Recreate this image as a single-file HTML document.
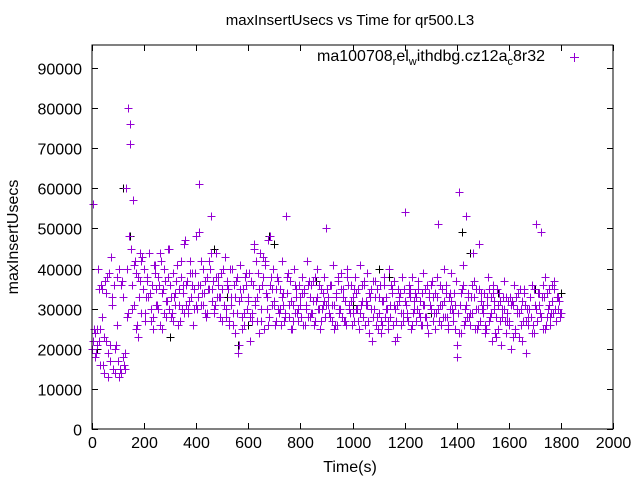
<!DOCTYPE html>
<html><head><meta charset="utf-8">
<style>
html,body{margin:0;padding:0;background:#fff;}
svg{display:block;font-family:"Liberation Sans",sans-serif;}
</style></head>
<body>
<svg id="chart" width="640" height="480" viewBox="0 0 640 480" xmlns="http://www.w3.org/2000/svg">
<rect x="0" y="0" width="640" height="480" fill="#fff"/>
<text x="350" y="25" font-size="15" text-anchor="middle">maxInsertUsecs vs Time for qr500.L3</text>
<text x="350" y="472" font-size="16" text-anchor="middle">Time(s)</text>
<text transform="translate(18,237) rotate(-90)" font-size="16" text-anchor="middle">maxInsertUsecs</text>
<g id="ticks"></g>
<g id="marks" shape-rendering="crispEdges"></g>
<rect x="92" y="45" width="521" height="384" fill="none" stroke="#000" stroke-width="1"/>
<text x="545" y="61" font-size="16" text-anchor="end">ma100708<tspan font-size="11" dy="4">r</tspan><tspan dy="-4">el</tspan><tspan font-size="11" dy="4">w</tspan><tspan dy="-4">ithdbg.cz12a</tspan><tspan font-size="11" dy="4">c</tspan><tspan dy="-4">8r32</tspan></text>
<g stroke="#9400d3" stroke-width="1"><line x1="570" y1="57.5" x2="579" y2="57.5"/><line x1="574.5" y1="53" x2="574.5" y2="62"/></g>
</svg>
<script>
const xTicks=[0,200,400,600,800,1000,1200,1400,1600,1800,2000];
const yTicks=[0,10000,20000,30000,40000,50000,60000,70000,80000,90000];
const stepA=5;
const valsA=[20,56,24,19,25,22,16,36,35,14,
37,22,13,39,21,33,15,36,14,38,
17,40,14,37,18,15,60,28,80,71,
45,36,31,42,25,38,33,44,29,35,
40,27,37,33,44,30,36,28,41,35,
31,38,26,42,34,29,37,32,45,30,
36,28,39,33,31,41,26,35,38,30,
34,46,31,37,29,42,33,36,30,39,
48,33,61,36,31,40,34,29,38,35,
42,53,32,37,30,44,33,36,28,39,
35,31,43,30,37,27,40,33,29,36,
24,38,19,32,41,28,35,26,39,30,
33,22,37,29,46,31,42,27,35,44,
30,38,25,41,33,47,28,36,31,40,
32,27,38,30,35,26,42,31,29,53,
34,28,37,25,31,40,29,33,27,36,
31,38,26,35,30,42,28,33,36,29,
37,27,32,40,30,25,35,31,38,28,
50,33,29,36,27,41,31,34,26,37,
30,39,28,35,32,26,40,31,29,36,
33,27,38,30,35,25,41,32,28,36,
31,39,27,34,30,22,37,33,26,35,
29,36,24,32,38,28,33,27,40,31,
34,26,37,30,23,35,32,29,38,27,
54,31,28,36,33,25,38,30,34,27,
35,29,32,26,39,31,28,36,24,33,
30,37,27,34,29,38,51,31,26,35,
32,28,36,25,33,30,39,27,34,31,
18,29,59,24,35,41,30,53,28,34,
26,33,29,37,25,35,30,46,27,32,
29,34,24,31,38,27,33,22,36,30,
28,35,25,32,21,30,37,27,33,29,
26,33,20,31,36,25,29,34,23,30,
32,27,35,19,30,26,33,28,36,24,
31,51,27,34,29,49,25,33,38,28,
30,35,26,32,29,37,27,33,30,28,29];
const stepB=10, offsetB=2.5;
const valsB=[22,18,40,25,16,34,19,43,15,21,
13,36,16,40,48,30,41,26,37,43,
29,38,34,25,39,30,44,35,28,38,
33,27,37,31,42,29,36,32,39,35,
30,49,34,37,29,40,35,31,38,33,
40,28,35,31,26,37,21,33,29,36,
39,27,45,33,24,36,42,30,48,35,
26,37,30,34,28,39,32,27,35,30,
28,34,31,37,29,26,33,36,30,32,
35,28,31,26,38,30,33,27,36,32,
29,34,27,31,37,32,24,35,30,28,
33,26,36,30,28,35,22,31,34,29,
32,27,35,29,33,37,26,31,28,34,
36,29,33,27,31,40,28,34,30,25,
21,31,36,27,33,29,44,30,26,34,
31,25,35,29,32,23,34,28,30,27,
27,32,24,30,35,22,31,28,33,26,
30,34,28,36,26,31,29,35,27,32];
const stepC=10, offsetC=7.5;
const valsC=[25,21,35,28,23,38,17,31,20,26,
15,33,19,29,76,57,39,23,42,35,
33,44,27,41,31,36,25,40,32,45,
29,34,41,27,36,47,30,39,26,31,
36,42,31,28,35,44,29,38,33,27,
31,36,26,40,33,29,35,25,38,32,
28,36,32,39,27,43,34,26,38,31,
35,29,33,27,38,31,25,36,29,33,
34,26,36,28,32,38,30,27,34,31,
31,36,25,33,29,35,27,38,30,26,
35,30,29,36,26,31,33,28,37,25,
27,32,30,25,36,31,27,33,26,35,
29,34,26,32,30,28,34,35,26,31,
33,25,30,36,28,34,26,32,29,37,
24,34,26,31,28,36,33,25,35,30,
26,33,28,34,24,31,27,33,24,32,
31,23,33,29,26,34,27,30,24,35,
27,31,33,25,34,28,36,30,33,29];
const blackTimes=[20,120,145,300,410,470,520,560,600,680,700,860,1000,1100,1140,1210,1300,1420,1450,1560,1700,1800];
const blackVals=[20,60,48,23,61,45,33,21,26,48,46,37,31,40,38,28,29,49,44,34,35,34];

const NS='http://www.w3.org/2000/svg';
const X0=92,X1=613,Y0=429,Y1=68;
function xs(t){return X0+(t/2000)*(X1-X0);}
function ys(v){return Y0-(v/90000)*(Y0-Y1);}
const tg=document.getElementById('ticks');
const mg=document.getElementById('marks');
function mk(tag,attrs,parent){const e=document.createElementNS(NS,tag);for(const k in attrs)e.setAttribute(k,attrs[k]);parent.appendChild(e);return e;}
xTicks.forEach(t=>{
  const x=Math.round(xs(t))+0.5;
  const l=mk('line',{x1:x,y1:429,x2:x,y2:423,stroke:'#000'},tg);
  
  
  mk('line',{x1:x,y1:45,x2:x,y2:51,stroke:'#000'},tg);
  const tx=mk('text',{x:x,y:448,'font-size':16,'text-anchor':'middle'},tg);
  tx.textContent=t;
  
  
});
yTicks.forEach(v=>{
  const y=Math.round(ys(v))+0.5;
  const l=mk('line',{x1:92,y1:y,x2:98,y2:y,stroke:'#000'},tg);
  
  
  mk('line',{x1:613,y1:y,x2:607,y2:y,stroke:'#000'},tg);
  const tx=mk('text',{x:82,y:y+6,'font-size':16,'text-anchor':'end'},tg);
  tx.textContent=v;
  
  
});
function plus(t,v,color,name){
  const x=Math.round(xs(t))+0.5,y=Math.round(ys(v))+0.5;
  const p=mk('path',{d:`M${x-4} ${y}H${x+4}M${x} ${y-4}V${y+4}`,stroke:color,'stroke-width':1,fill:'none'},mg);
  
  
}
blackTimes.forEach((t,i)=>plus(t,blackVals[i]*1000,'#000','black-point'));
valsA.forEach((v,i)=>plus(i*stepA,v*1000,'#9400d3','data-point'));
valsB.forEach((v,i)=>plus(i*stepB+offsetB,v*1000,'#9400d3','data-point'));
valsC.forEach((v,i)=>plus(i*stepC+offsetC,v*1000,'#9400d3','data-point'));
</script>
</body></html>
